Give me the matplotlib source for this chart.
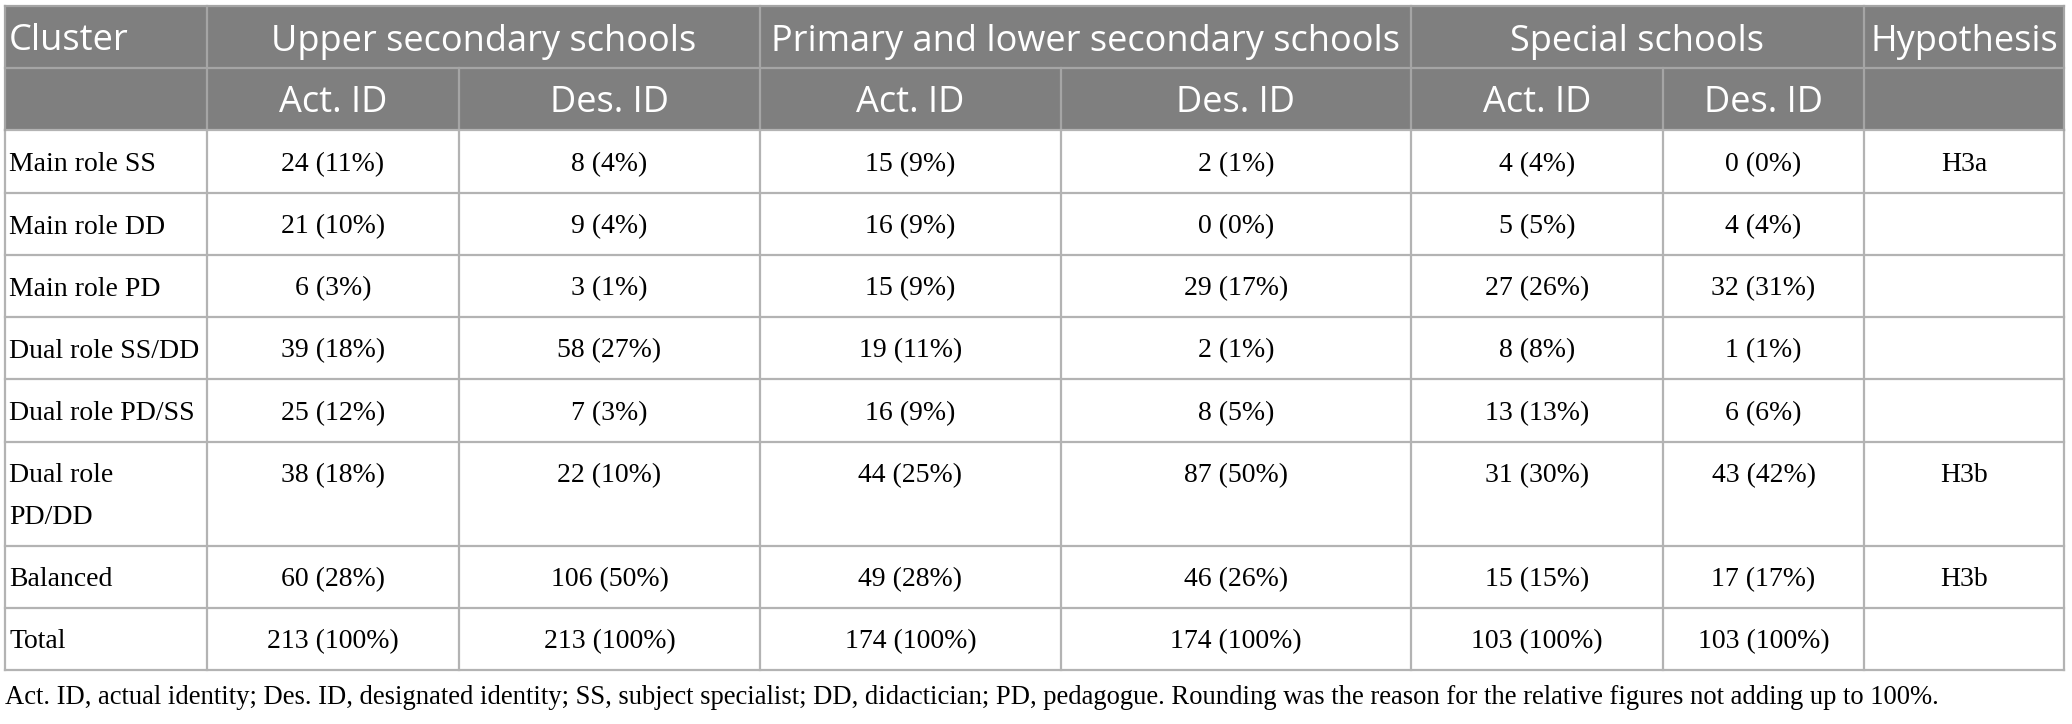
#!/usr/bin/env python3
"""
Cluster distribution table (actual vs designated identity) by school type.
"""

import matplotlib.pyplot as plt
from matplotlib.patches import Rectangle

# Table content
clusters = ['Main role SS', 'Main role DD', 'Main role PD', 'Dual role SS/DD',
            'Dual role PD/SS', 'Dual role\nPD/DD', 'Balanced', 'Total']
school_types = ['Upper secondary schools', 'Primary and lower secondary schools',
                'Special schools']
sub_headers = ['Act. ID', 'Des. ID']

upper_act_n = [24, 21, 6, 39, 25, 38, 60, 213]
upper_act_pct = [11, 10, 3, 18, 12, 18, 28, 100]
upper_des_n = [8, 9, 3, 58, 7, 22, 106, 213]
upper_des_pct = [4, 4, 1, 27, 3, 10, 50, 100]

primary_act_n = [15, 16, 15, 19, 16, 44, 49, 174]
primary_act_pct = [9, 9, 9, 11, 9, 25, 28, 100]
primary_des_n = [2, 0, 29, 2, 8, 87, 46, 174]
primary_des_pct = [1, 0, 17, 1, 5, 50, 26, 100]

special_act_n = [4, 5, 27, 8, 13, 31, 15, 103]
special_act_pct = [4, 5, 26, 8, 13, 30, 15, 100]
special_des_n = [0, 4, 32, 1, 6, 43, 17, 103]
special_des_pct = [0, 4, 31, 1, 6, 42, 17, 100]

hypothesis = ['H3a', '', '', '', '', 'H3b', 'H3b', '']

footnote = ('Act. ID, actual identity; Des. ID, designated identity; SS, subject '
            'specialist; DD, didactician; PD, pedagogue. Rounding was the reason '
            'for the relative figures not adding up to 100%.')

# Layout (pixels)
W, H = 2072, 724
COL_X = [5, 207, 459, 760, 1061, 1411, 1663, 1864, 2064]
ROW_Y = [6, 68, 130, 193, 255, 317, 379, 442, 546, 608, 670]

HEADER_BG = '#7f7f7f'
HEADER_LINE = '#a5a5a5'
GRID = '#b3b3b3'
SANS = ['Open Sans', 'DejaVu Sans']
SERIF = ['Liberation Serif', 'DejaVu Serif']
HEAD_SIZE = 26
BODY_SIZE = 20
NOTE_SIZE = 19.2


def fmt(n_list, pct_list):
    return [f"{n} ({p}%)" for n, p in zip(n_list, pct_list)]


def draw_table(ax):
    columns = [
        fmt(upper_act_n, upper_act_pct), fmt(upper_des_n, upper_des_pct),
        fmt(primary_act_n, primary_act_pct), fmt(primary_des_n, primary_des_pct),
        fmt(special_act_n, special_act_pct), fmt(special_des_n, special_des_pct),
        hypothesis,
    ]

    # header background
    ax.add_patch(Rectangle((COL_X[0], ROW_Y[0]), COL_X[-1] - COL_X[0],
                           ROW_Y[2] - ROW_Y[0], facecolor=HEADER_BG,
                           edgecolor='none', zorder=1))

    # header lines
    ax.plot([COL_X[0], COL_X[-1]], [ROW_Y[1]] * 2, color=HEADER_LINE, lw=1.6, zorder=2)
    for x in [COL_X[1], COL_X[3], COL_X[5], COL_X[7]]:
        ax.plot([x, x], [ROW_Y[0], ROW_Y[2]], color=HEADER_LINE, lw=1.6, zorder=2)
    for x in [COL_X[2], COL_X[4], COL_X[6]]:
        ax.plot([x, x], [ROW_Y[1], ROW_Y[2]], color=HEADER_LINE, lw=1.6, zorder=2)

    # body grid
    for y in ROW_Y[2:]:
        ax.plot([COL_X[0], COL_X[-1]], [y, y], color=GRID, lw=1.6, zorder=2)
    for x in COL_X:
        ax.plot([x, x], [ROW_Y[2], ROW_Y[-1]], color=GRID, lw=1.6, zorder=2)
    # outer border around header
    for x in [COL_X[0], COL_X[-1]]:
        ax.plot([x, x], [ROW_Y[0], ROW_Y[2]], color=HEADER_LINE, lw=1.6, zorder=2)
    ax.plot([COL_X[0], COL_X[-1]], [ROW_Y[0]] * 2, color=HEADER_LINE, lw=1.6, zorder=2)

    # header text
    y1 = (ROW_Y[0] + ROW_Y[1]) / 2
    y2 = (ROW_Y[1] + ROW_Y[2]) / 2
    ax.text(COL_X[0] + 4, y1, 'Cluster', color='white', fontsize=HEAD_SIZE,
            family=SANS, ha='left', va='center_baseline', zorder=3)
    for i, name in enumerate(school_types):
        xc = (COL_X[1 + 2 * i] + COL_X[3 + 2 * i]) / 2
        ax.text(xc, y1, name, color='white', fontsize=HEAD_SIZE, family=SANS,
                ha='center', va='center_baseline', zorder=3)
        for j, sub in enumerate(sub_headers):
            xs = (COL_X[1 + 2 * i + j] + COL_X[2 + 2 * i + j]) / 2
            ax.text(xs, y2, sub, color='white', fontsize=HEAD_SIZE, family=SANS,
                    ha='center', va='center_baseline', zorder=3)
    ax.text((COL_X[7] + COL_X[8]) / 2, y1, 'Hypothesis', color='white',
            fontsize=HEAD_SIZE, family=SANS, ha='center', va='center_baseline',
            zorder=3)

    # body text
    for r, name in enumerate(clusters):
        top, bot = ROW_Y[2 + r], ROW_Y[3 + r]
        if '\n' in name:
            first, second = name.split('\n')
            yc = top + 31
            ax.text(COL_X[0] + 4, yc, first, fontsize=BODY_SIZE, family=SERIF,
                    ha='left', va='center_baseline', zorder=3)
            ax.text(COL_X[0] + 4, yc + 42, second, fontsize=BODY_SIZE, family=SERIF,
                    ha='left', va='center_baseline', zorder=3)
        else:
            yc = (top + bot) / 2
            ax.text(COL_X[0] + 4, yc, name, fontsize=BODY_SIZE, family=SERIF,
                    ha='left', va='center_baseline', zorder=3)
        for c, col in enumerate(columns):
            xc = (COL_X[1 + c] + COL_X[2 + c]) / 2
            ax.text(xc, yc, col[r], fontsize=BODY_SIZE, family=SERIF,
                    ha='center', va='center_baseline', zorder=3)

    ax.text(COL_X[0], 694, footnote, fontsize=NOTE_SIZE, family=SERIF,
            ha='left', va='center_baseline', zorder=3)


def main():
    fig = plt.figure(figsize=(W / 100, H / 100), dpi=100)
    ax = fig.add_axes([0, 0, 1, 1])
    ax.set_xlim(0, W)
    ax.set_ylim(H, 0)
    ax.axis('off')
    draw_table(ax)
    fig.savefig('out.png', dpi=100, facecolor='white')


if __name__ == '__main__':
    main()
